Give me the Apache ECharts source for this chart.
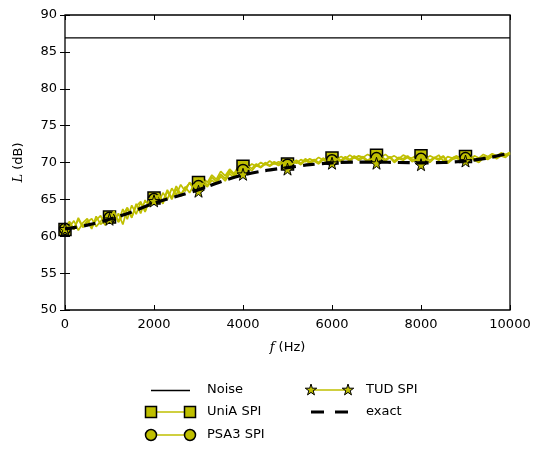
<!DOCTYPE html>
<html>
<head>
<meta charset="utf-8">
<script src="https://cdn.jsdelivr.net/npm/echarts@6/dist/echarts.min.js"></script>
<style>
html,body{margin:0;padding:0;background:#fff;}
#chart{width:536px;height:451px;}
</style>
</head>
<body>
<div id="chart"></div>
<script>
// ---- data ----
const freqStep = 100; // Hz spacing of the spectra
const xTicks = [0, 2000, 4000, 6000, 8000, 10000];
const yTicks = [50, 55, 60, 65, 70, 75, 80, 85, 90];
const noiseLevel = [86.9, 86.9];
const noiseFreq = [0, 10000];
const uniA = [
  60.9, 61.8, 61.0, 62.3, 61.2, 61.9, 62.4, 61.3, 62.0, 62.8,
  62.6, 61.8, 63.1, 61.6, 63.8, 62.5, 64.4, 63.1, 64.9, 64.0,
  65.2, 64.4, 65.9, 65.0, 66.5, 65.6, 67.0, 66.1, 67.3, 66.7,
  67.3, 67.9, 67.3, 68.3, 67.7, 68.8, 68.2, 69.1, 68.5, 69.5,
  69.5, 69.3, 69.8, 69.5, 70.0, 69.7, 70.2, 69.8, 70.1, 69.9,
  69.8, 70.2, 69.9, 70.4, 70.1, 70.5, 70.2, 70.7, 70.3, 70.6,
  70.6, 70.4, 70.8, 70.5, 71.0, 70.6, 70.9, 70.7, 71.1, 70.8,
  71.0, 70.7, 71.1, 70.6, 70.9, 70.5, 71.0, 70.7, 70.6, 71.0,
  70.9, 70.5, 70.9, 70.6, 71.0, 70.2, 70.8, 70.6, 70.9, 70.5,
  70.8, 70.4, 70.9, 70.6, 71.1, 70.8, 71.2, 70.9, 71.3, 71.1,
  71.4
];
const psa3 = [
  61.0, 62.0, 60.9, 62.5, 61.3, 62.1, 61.0, 62.7, 61.6, 62.2,
  62.5, 63.2, 62.0, 63.7, 62.3, 64.2, 63.0, 64.6, 63.4, 65.0,
  65.05, 65.8, 64.7, 66.3, 65.2, 66.8, 65.7, 66.5, 67.2, 66.4,
  66.8, 67.6, 66.9, 68.0, 67.4, 68.4, 67.8, 68.9, 68.2, 69.1,
  69.0, 69.5, 69.2, 69.8, 69.4, 70.0, 69.6, 70.1, 69.8, 70.2,
  69.7, 70.0, 70.3, 69.9, 70.5, 70.1, 70.4, 70.0, 70.6, 70.2,
  70.3, 70.7, 70.3, 70.8, 70.4, 70.9, 70.5, 70.8, 70.3, 70.7,
  70.6, 70.9, 70.4, 70.8, 70.2, 70.7, 70.5, 70.9, 70.3, 70.6,
  70.5, 70.8, 70.3, 70.7, 70.5, 70.9, 70.1, 70.6, 70.8, 70.4,
  70.6, 70.9, 70.5, 70.2, 70.8, 70.6, 71.0, 70.7, 71.1, 70.9,
  71.3
];
const tud = [
  61.0, 61.2, 62.1, 60.8, 61.8, 62.4, 61.2, 62.2, 62.8, 61.5,
  62.3, 63.4, 61.9, 62.9, 63.9, 62.6, 64.1, 64.7, 63.3, 65.1,
  64.8, 65.6, 64.4, 66.1, 65.0, 66.4, 65.4, 66.7, 65.9, 67.0,
  66.1, 67.2, 66.7, 67.6, 67.1, 68.1, 67.5, 68.5, 67.9, 68.8,
  68.4, 69.2, 68.9, 69.6, 69.3, 69.8, 69.5, 69.9, 69.6, 70.0,
  69.1, 69.8, 70.1, 69.7, 70.3, 69.9, 70.2, 69.8, 70.4, 70.0,
  69.9, 70.5, 70.1, 70.6, 70.2, 70.7, 70.3, 70.6, 70.1, 70.5,
  69.9, 70.6, 70.2, 70.7, 70.0, 70.5, 70.3, 70.7, 70.1, 70.4,
  69.7, 70.5, 70.0, 70.6, 70.3, 70.8, 69.9, 70.4, 70.6, 70.2,
  70.2, 70.7, 70.3, 70.0, 70.6, 70.4, 70.8, 70.5, 70.9, 70.7,
  71.2
];
const exactFreq = [0, 500, 1000, 1500, 2000, 2500, 3000, 3500, 4000, 4500, 5000,
  5500, 6000, 6500, 7000, 7500, 8000, 8500, 9000, 9500, 10000];
const exactL = [61.0, 61.5, 62.3, 63.3, 64.5, 65.4, 66.3, 67.4, 68.3, 68.9, 69.3,
  69.7, 69.95, 70.05, 70.05, 70.0, 69.95, 70.0, 70.2, 70.6, 71.3];
const legendNames = ['Noise', 'UniA SPI', 'PSA3 SPI', 'TUD SPI', 'exact'];

// ---- chart ----
const Y = '#bfbf00';
const STAR_PTS = [[50,0],[61,35],[98,35],[68,57],[79,91],[50,70],[21,91],[32,57],[2,35],[39,35]];
const STAR = 'path://M' + STAR_PTS.map(p => p.join(',')).join(' L') + ' Z';
const markerEvery = 10;

function spectrum(arr, symbol) {
  return arr.map((v, i) => ({
    value: [i * freqStep, v],
    symbol: (i % markerEvery === 0 && i < arr.length - 1) ? symbol : 'none'
  }));
}

const font = 'DejaVu Sans';
const chart = echarts.init(document.getElementById('chart'), null, {renderer: 'canvas'});

const tickStyle = {show: true, inside: true, length: 5, lineStyle: {color: '#000', width: 1}};
const baseAxisX = {
  type: 'value', min: 0, max: 10000, interval: 2000,
  splitLine: {show: false}, axisLine: {show: false}, axisTick: tickStyle
};
const baseAxisY = {
  type: 'value', min: 50, max: 90, interval: 5,
  splitLine: {show: false}, axisLine: {show: false}, axisTick: tickStyle
};

// legend drawn as graphic (markers at both line ends, like the reference)
const txt = {fill: '#000', font: '13px "DejaVu Sans"', verticalAlign: 'middle', align: 'left'};
const mk = {fill: Y, stroke: '#000', lineWidth: 1.5};
const rowY = [390, 412, 435];
const c1 = [151, 190], c2 = [311, 348];
const graphics = [];
function gline(x1, x2, y, style) {
  graphics.push({type: 'line', shape: {x1: x1, y1: y, x2: x2, y2: y}, style: style, z: 10});
}
// Noise
gline(151, 190, rowY[0] + 0.5, {stroke: '#000', lineWidth: 1.3});
// UniA
gline(c1[0], c1[1], rowY[1], {stroke: Y, lineWidth: 1.6});
c1.forEach(x => graphics.push({type: 'rect', shape: {x: x - 5.5, y: rowY[1] - 5.5, width: 11, height: 11}, style: mk, z: 11}));
// PSA3
gline(c1[0], c1[1], rowY[2], {stroke: Y, lineWidth: 1.6});
c1.forEach(x => graphics.push({type: 'circle', shape: {cx: x, cy: rowY[2], r: 5.5}, style: mk, z: 11}));
// TUD
gline(c2[0], c2[1], rowY[0], {stroke: Y, lineWidth: 1.6});
c2.forEach(x => graphics.push({type: 'polygon',
  shape: {points: STAR_PTS.map(p => [x - 6 + p[0] / 100 * 12, rowY[0] - 6 + p[1] / 100 * 12])},
  style: {fill: Y, stroke: '#000', lineWidth: 1}, z: 11}));
// exact
graphics.push({type: 'line', shape: {x1: 311, y1: rowY[1], x2: 348, y2: rowY[1]},
  style: {stroke: '#000', lineWidth: 3.2, lineDash: [13, 11]}, z: 10});
// texts
graphics.push({type: 'text', x: 207, y: rowY[0], style: Object.assign({text: legendNames[0]}, txt), z: 12});
graphics.push({type: 'text', x: 207, y: rowY[1], style: Object.assign({text: legendNames[1]}, txt), z: 12});
graphics.push({type: 'text', x: 207, y: rowY[2], style: Object.assign({text: legendNames[2]}, txt), z: 12});
graphics.push({type: 'text', x: 366, y: rowY[0], style: Object.assign({text: legendNames[3]}, txt), z: 12});
graphics.push({type: 'text', x: 366, y: rowY[1], style: Object.assign({text: legendNames[4]}, txt), z: 12});

chart.setOption({
  animation: false,
  backgroundColor: '#fff',
  grid: {left: 65, right: 26, top: 15, bottom: 141, show: true,
         borderColor: '#000', borderWidth: 1.3, backgroundColor: 'transparent'},
  xAxis: [
    Object.assign({}, baseAxisX, {
      position: 'bottom',
      axisLabel: {color: '#000', fontFamily: font, fontSize: 13, margin: 8, formatter: v => String(v)},
      name: '{i|f} (Hz)', nameLocation: 'middle', nameGap: 31,
      nameTextStyle: {color: '#000', fontFamily: font, fontSize: 13,
        rich: {i: {fontFamily: 'DejaVu Serif', fontStyle: 'italic', fontSize: 13, color: '#000'}}}
    }),
    Object.assign({}, baseAxisX, {position: 'top', axisLabel: {show: false}})
  ],
  yAxis: [
    Object.assign({}, baseAxisY, {
      position: 'left',
      axisLabel: {color: '#000', fontFamily: font, fontSize: 13, margin: 8, formatter: v => String(v)},
      name: '{i|L} (dB)', nameLocation: 'middle', nameGap: 40, nameRotate: 90,
      nameTextStyle: {color: '#000', fontFamily: font, fontSize: 13,
        rich: {i: {fontFamily: 'DejaVu Serif', fontStyle: 'italic', fontSize: 13, color: '#000'}}}
    }),
    Object.assign({}, baseAxisY, {position: 'right', axisLabel: {show: false}})
  ],
  graphic: graphics,
  series: [
    {
      name: legendNames[0], type: 'line', symbol: 'none',
      data: noiseFreq.map((f, i) => [f, noiseLevel[i]]),
      lineStyle: {color: '#000', width: 1.3}, itemStyle: {color: '#000'}, z: 2
    },
    {
      name: legendNames[1], type: 'line', symbol: 'rect', symbolSize: 12, showAllSymbol: true,
      data: spectrum(uniA, 'rect'),
      lineStyle: {color: Y, width: 1.7},
      itemStyle: {color: Y, borderColor: '#000', borderWidth: 1.5}, z: 3
    },
    {
      name: legendNames[2], type: 'line', symbol: 'circle', symbolSize: 11, showAllSymbol: true,
      data: spectrum(psa3, 'circle'),
      lineStyle: {color: Y, width: 1.7},
      itemStyle: {color: Y, borderColor: '#000', borderWidth: 1.5}, z: 4
    },
    {
      name: legendNames[3], type: 'line', symbol: STAR, symbolSize: 12, showAllSymbol: true,
      data: spectrum(tud, STAR),
      lineStyle: {color: Y, width: 1.7},
      itemStyle: {color: Y, borderColor: '#000', borderWidth: 1}, z: 5
    },
    {
      name: legendNames[4], type: 'line', symbol: 'none', smooth: 0.3,
      data: exactFreq.map((f, i) => [f, exactL[i]]),
      lineStyle: {color: '#000', width: 3.2, type: [12, 7]},
      itemStyle: {color: '#000'}, z: 6
    }
  ]
});
</script>
</body>
</html>
